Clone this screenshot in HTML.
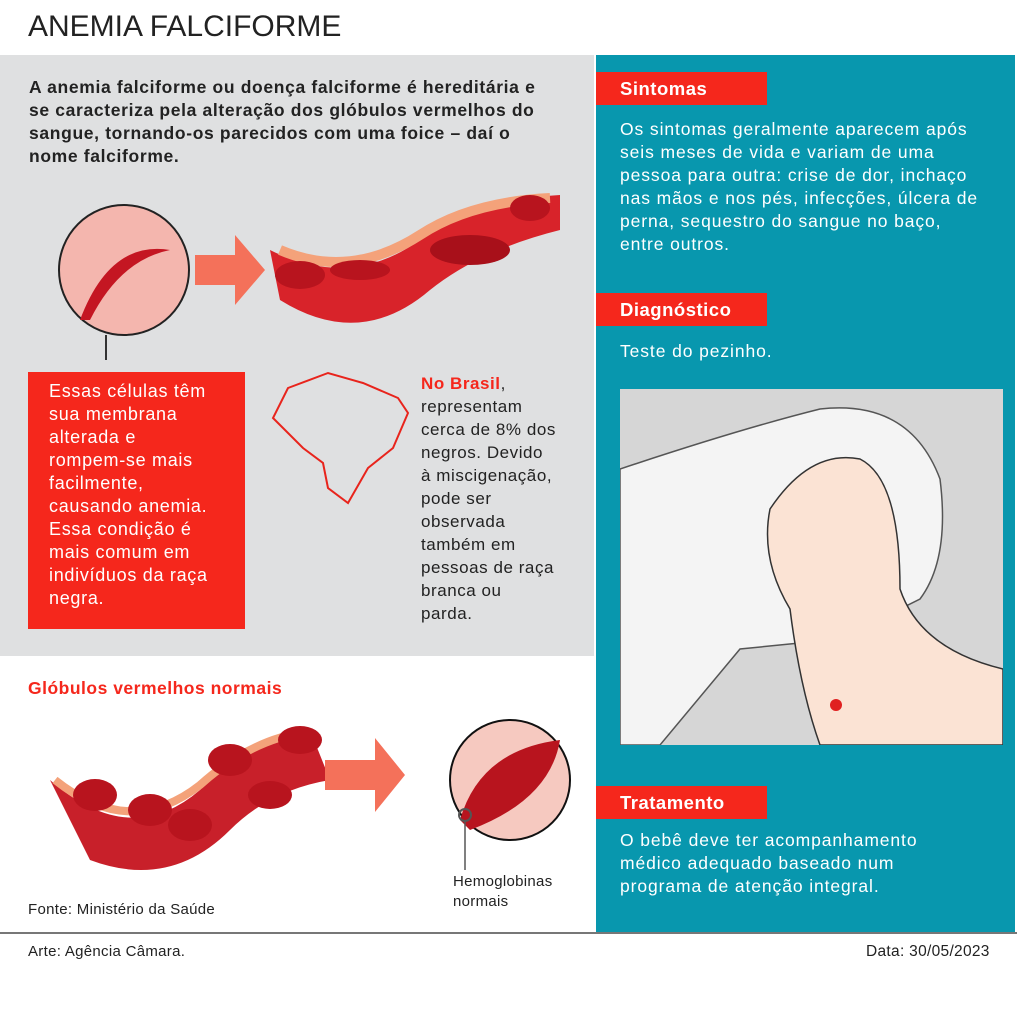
<!DOCTYPE html>
<html><head><meta charset="utf-8"><style>
body{margin:0;width:1017px;height:1024px;background:#fff;position:relative;overflow:hidden;font-family:"Liberation Sans",sans-serif}
.a{position:absolute;white-space:nowrap}
.t{color:#222;font-size:16px;line-height:23px;letter-spacing:0.6px}
.h{background:#f5271c;color:#fff;font-weight:bold;font-size:18.5px;padding-left:24px;box-sizing:border-box;height:33px;line-height:33px;width:171px;letter-spacing:0.5px}
.w{color:#fff;font-size:17.5px;line-height:23px;letter-spacing:0.9px}
</style></head><body>
<div class="a" style="left:28px;top:10px;font-size:30px;color:#222">ANEMIA FALCIFORME</div>
<div class="a" style="left:0;top:55px;width:594px;height:601px;background:#dfe0e1"></div>
<div class="a" style="left:596px;top:55px;width:419px;height:878px;background:#0897ae"></div>
<div class="a" style="left:0;top:932px;width:1017px;height:2px;background:#777"></div>
<div class="a t" style="left:29px;top:76px;font-weight:bold;font-size:17.5px;letter-spacing:0.65px">A anemia falciforme ou doença falciforme é hereditária e<br>se caracteriza pela alteração dos glóbulos vermelhos do<br>sangue, tornando-os parecidos com uma foice – daí o<br>nome falciforme.</div>
<svg class="a" style="left:0;top:180px" width="594" height="180">
<circle cx="124" cy="90" r="65" fill="#f4b6ae" stroke="#222" stroke-width="2"/>
<path d="M80 140 Q110 60 170 70 Q120 80 90 140Z" fill="#c41622"/>
<line x1="106" y1="155" x2="106" y2="180" stroke="#333" stroke-width="2"/>
<path d="M195 75 H235 V55 L265 90 L235 125 V105 H195Z" fill="#f4715a"/>
<path d="M270 70 Q350 110 420 60 Q470 20 560 15 L560 50 Q480 70 430 110 Q360 170 280 120Z" fill="#d8232a"/>
<path d="M280 70 Q350 100 420 55 Q470 22 550 18" stroke="#f4a27a" stroke-width="10" fill="none"/>
<ellipse cx="300" cy="95" rx="25" ry="14" fill="#b8141e"/><ellipse cx="360" cy="90" rx="30" ry="10" fill="#b8141e"/><ellipse cx="470" cy="70" rx="40" ry="15" fill="#a8101a"/><ellipse cx="530" cy="28" rx="20" ry="13" fill="#b8141e"/>
</svg>
<div class="a w" style="left:28px;top:372px;width:217px;height:257px;background:#f5271c;box-sizing:border-box;padding:8px 0 0 21px;font-size:18px;letter-spacing:0.7px">Essas células têm<br>sua membrana<br>alterada e<br>rompem-se mais<br>facilmente,<br>causando anemia.<br>Essa condição é<br>mais comum em<br>indivíduos da raça<br>negra.</div>
<svg class="a" style="left:268px;top:368px" width="145" height="140"><path d="M20 20 L60 5 L95 15 L130 30 L140 45 L125 80 L100 100 L80 135 L60 120 L55 95 L35 80 L5 50Z" fill="none" stroke="#e8241c" stroke-width="2"/></svg>
<div class="a t" style="left:421px;top:372px;font-size:17px;letter-spacing:0.55px"><b style="color:#f5271c">No Brasil</b>,<br>representam<br>cerca de 8% dos<br>negros. Devido<br>à miscigenação,<br>pode ser<br>observada<br>também em<br>pessoas de raça<br>branca ou<br>parda.</div>
<div class="a" style="left:28px;top:678px;font-size:17.5px;font-weight:bold;color:#f5271c;letter-spacing:0.5px">Glóbulos vermelhos normais</div>
<svg class="a" style="left:40px;top:710px" width="560" height="180">
<path d="M10 70 Q90 140 160 80 Q210 30 270 20 L290 70 Q230 80 190 120 Q130 180 50 150Z" fill="#c8202a"/>
<path d="M15 70 Q90 130 160 75 Q210 30 265 22" stroke="#f4a27a" stroke-width="8" fill="none"/>
<ellipse cx="55" cy="85" rx="22" ry="16" fill="#b8141e"/><ellipse cx="110" cy="100" rx="22" ry="16" fill="#b8141e"/><ellipse cx="150" cy="115" rx="22" ry="16" fill="#b8141e"/><ellipse cx="190" cy="50" rx="22" ry="16" fill="#b8141e"/><ellipse cx="260" cy="30" rx="22" ry="14" fill="#b8141e"/><ellipse cx="230" cy="85" rx="22" ry="14" fill="#b8141e"/>
<path d="M285 50 H335 V28 L365 65 L335 102 V80 H285Z" fill="#f4715a"/>
<circle cx="470" cy="70" r="60" fill="#f6c9c0" stroke="#111" stroke-width="2"/>
<path d="M420 110 Q440 40 520 30 Q510 90 430 120Z" fill="#b8141e"/>
<circle cx="425" cy="105" r="6" fill="none" stroke="#555" stroke-width="2"/>
<line x1="425" y1="111" x2="425" y2="160" stroke="#555" stroke-width="1.5"/>
</svg>
<div class="a t" style="left:453px;top:872px;font-size:15px;line-height:20px;letter-spacing:0.3px">Hemoglobinas<br>normais</div>
<div class="a t" style="left:28px;top:898px;font-size:15px;letter-spacing:0.3px">Fonte: Ministério da Saúde</div>
<div class="a t" style="left:28px;top:940px;font-size:15px;letter-spacing:0.3px">Arte: Agência Câmara.</div>
<div class="a t" style="left:866px;top:940px;font-size:15.5px;letter-spacing:0.3px">Data: 30/05/2023</div>
<div class="a h" style="left:596px;top:72px">Sintomas</div>
<div class="a w" style="left:620px;top:118px">Os sintomas geralmente aparecem após<br>seis meses de vida e variam de uma<br>pessoa para outra: crise de dor, inchaço<br>nas mãos e nos pés, infecções, úlcera de<br>perna, sequestro do sangue no baço,<br>entre outros.</div>
<div class="a h" style="left:596px;top:293px">Diagnóstico</div>
<div class="a w" style="left:620px;top:340px">Teste do pezinho.</div>
<div class="a" style="left:620px;top:389px;width:383px;height:356px;background:#d6d6d6"></div>
<svg class="a" style="left:620px;top:389px" width="383" height="356">
<path d="M0 80 Q120 40 200 20 Q290 10 320 90 Q330 170 300 210 L220 250 L120 260 L40 356 H0Z" fill="#f4f4f4" stroke="#555" stroke-width="1.5"/>
<path d="M150 120 Q190 60 240 70 Q280 90 280 200 Q300 260 383 280 V356 H200 Q180 300 170 220 Q140 170 150 120Z" fill="#fbe3d4" stroke="#333" stroke-width="1.5"/>
<circle cx="216" cy="316" r="6" fill="#e02020"/>
</svg>
<div class="a h" style="left:596px;top:786px">Tratamento</div>
<div class="a w" style="left:620px;top:829px">O bebê deve ter acompanhamento<br>médico adequado baseado num<br>programa de atenção integral.</div>
</body></html>
